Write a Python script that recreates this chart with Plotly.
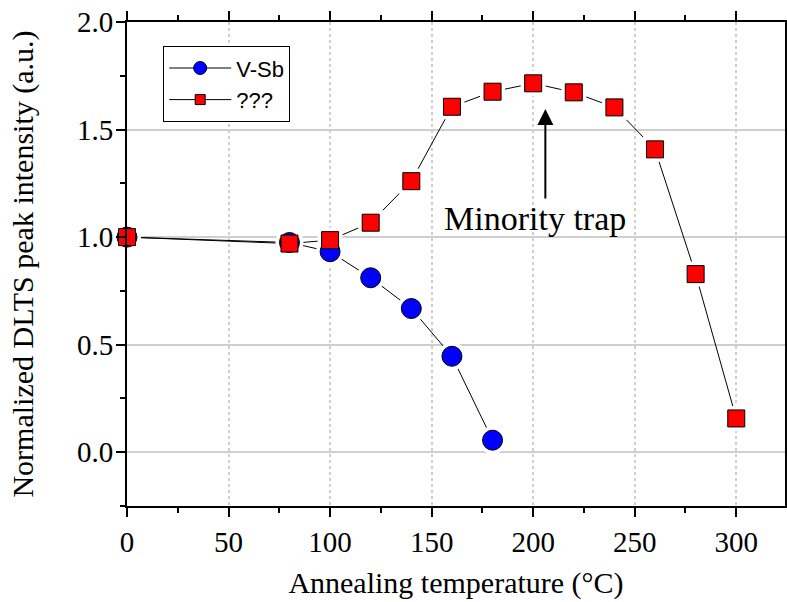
import plotly.graph_objects as go

# Annealing temperatures (°C) and normalized DLTS peak intensities
temp_vsb = [0, 80, 100, 120, 140, 160, 180]
int_vsb = [1.0, 0.975, 0.932, 0.811, 0.668, 0.446, 0.056]

temp_unk = [0, 80, 100, 120, 140, 160, 180, 200, 220, 240, 260, 280, 300]
int_unk = [1.0, 0.97, 0.986, 1.067, 1.26, 1.606, 1.676, 1.715, 1.673, 1.603, 1.408, 0.828, 0.157]

series = [
    dict(name="V-Sb", x=temp_vsb, y=int_vsb, symbol="circle", size=20, color="#0000FF"),
    dict(name="???", x=temp_unk, y=int_unk, symbol="square", size=17, color="#FF0000"),
]

SERIF = "Liberation Serif"
SANS = "Liberation Sans"

fig = go.Figure()

# connecting lines
for s in series:
    fig.add_trace(go.Scatter(x=s["x"], y=s["y"], mode="lines",
                             line=dict(color="black", width=1),
                             showlegend=False, hoverinfo="skip"))
# white halos leave a small gap between lines and symbols
for s in series:
    fig.add_trace(go.Scatter(x=s["x"], y=s["y"], mode="markers",
                             marker=dict(symbol=s["symbol"], size=s["size"] + 8,
                                         color="white", line=dict(width=0)),
                             showlegend=False, hoverinfo="skip", cliponaxis=False))
# symbols
for s in series:
    fig.add_trace(go.Scatter(x=s["x"], y=s["y"], mode="markers", name=s["name"],
                             marker=dict(symbol=s["symbol"], size=s["size"],
                                         color=s["color"], line=dict(color="black", width=1)),
                             showlegend=False, cliponaxis=False))
# legend entries (line + symbol)
for s in series:
    fig.add_trace(go.Scatter(x=[None], y=[None], mode="lines+markers", name=s["name"],
                             line=dict(color="black", width=1),
                             marker=dict(symbol=s["symbol"], size=s["size"] - 7,
                                         color=s["color"], line=dict(color="black", width=1))))

fig.add_annotation(x=206, y=1.595, ax=206, ay=1.172, xref="x", yref="y",
                   axref="x", ayref="y", text="", showarrow=True,
                   arrowhead=2, arrowsize=1.6, arrowwidth=2, arrowcolor="black")
fig.add_annotation(x=201, y=1.088, xref="x", yref="y", text="Minority trap",
                   showarrow=False, font=dict(family=SERIF, size=34, color="black"))

fig.update_layout(
    template="simple_white",
    width=787, height=602,
    font=dict(family=SERIF, size=29, color="black"),
    margin=dict(l=127, r=1.5, t=22, b=96),
    paper_bgcolor="white", plot_bgcolor="white",
    legend=dict(x=0.055, y=0.95, xanchor="left", yanchor="top",
                bgcolor="white", bordercolor="black", borderwidth=1,
                font=dict(family=SANS, size=22, color="black"),
                itemwidth=62, tracegroupgap=0),
)

for upd in (fig.update_xaxes, fig.update_yaxes):
    upd(showline=True, linecolor="black", linewidth=2, mirror="allticks",
        ticks="outside", ticklen=9, tickwidth=2, tickcolor="black",
        showgrid=True, gridcolor="#cfcfcf", gridwidth=1.5,
        zeroline=False, automargin=False)
    upd(tickfont_family=SERIF, tickfont_size=29, tickfont_color="black")
    upd(title_font_family=SERIF, title_font_size=30, title_font_color="black")

fig.update_xaxes(
    range=[0, 324], tick0=0, dtick=50,
    minor=dict(ticks="outside", ticklen=5, tickwidth=2, tickcolor="black", dtick=25, showgrid=False),
    griddash="dot",
    title_text="Annealing temperature (°C)",
)
fig.update_yaxes(
    range=[-0.25, 2.0], tick0=0, dtick=0.5, tickformat=".1f",
    minor=dict(ticks="outside", ticklen=5, tickwidth=2, tickcolor="black", dtick=0.25, showgrid=False),
    ticklabelstandoff=-3,
    title_text="Normalized DLTS peak intensity (a.u.)",
    title_standoff=34,
)

fig.write_html("out.html")
